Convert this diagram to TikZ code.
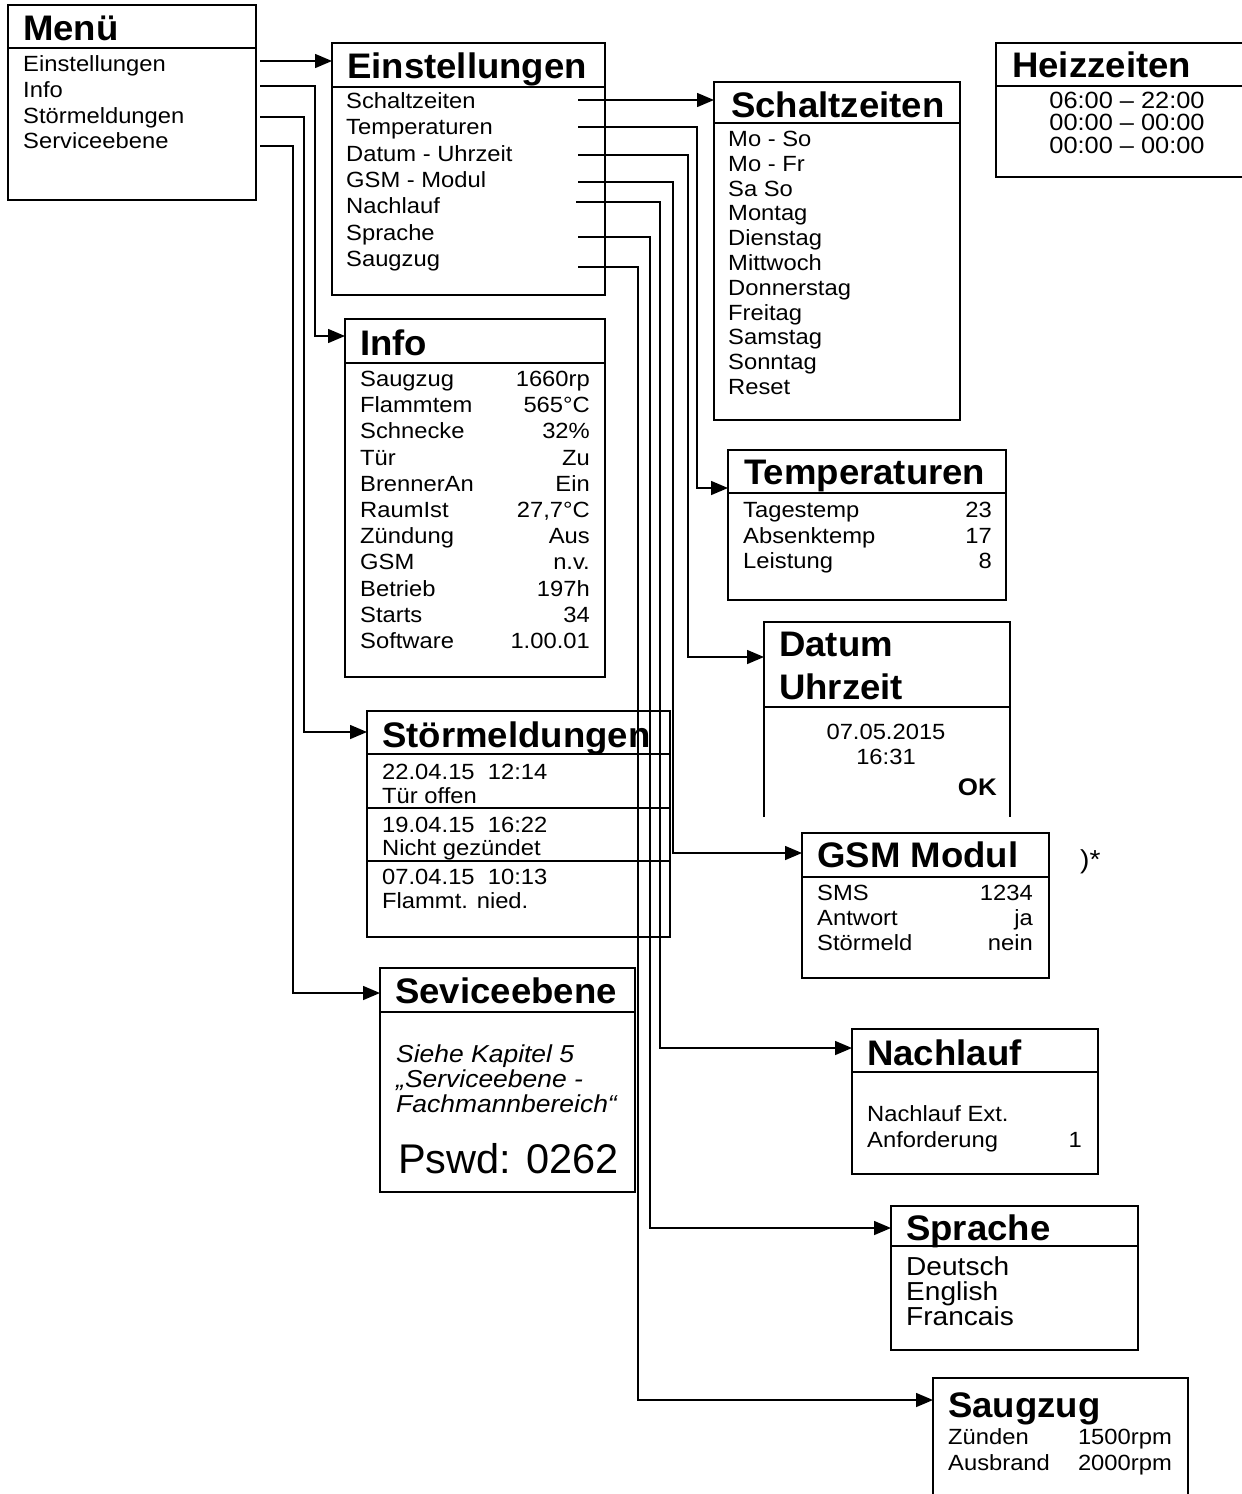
\documentclass[tikz,border=0pt]{standalone}
\usepackage{fontspec}
\setmainfont{Liberation Sans}
\newfontfamily\bodyf{Liberation Sans}[FakeStretch=1.08]
\newfontfamily\headf{Liberation Sans}[FakeStretch=1.03]
\usetikzlibrary{arrows.meta}
\tikzset{
 box/.style={draw, line width=2pt, rectangle, inner sep=0pt, outer sep=0pt, anchor=north west},
 frame/.style={rectangle, inner sep=0pt, outer sep=0pt, anchor=north west},
 openfr/.style={line width=2pt, line join=miter},
 sepl/.style={line width=1.8pt},
 conn/.style={line width=1.5pt, -{Triangle[length=17pt,width=14pt]}},
 ttl/.style={anchor=base west, inner sep=0pt, font=\headf\bfseries\fontsize{35.5}{40}\selectfont},
 itm/.style={anchor=base west, inner sep=0pt, font=\bodyf\fontsize{22}{25}\selectfont},
 val/.style={anchor=base east, inner sep=0pt, font=\bodyf\fontsize{22}{25}\selectfont},
 ctr/.style={anchor=base, inner sep=0pt, font=\bodyf\fontsize{22}{25}\selectfont},
}
\begin{document}
\begin{tikzpicture}[x=1pt,y=-1pt]
\useasboundingbox (0,0) rectangle (1242,1494);

% ---------- Menü ----------
\node[box, minimum width=248pt, minimum height=195pt] (menu) at (8,5) {};
\draw[sepl] (menu.west |- 0,48) -- (menu.east |- 0,48);
\node[ttl] (menuT) at (23,40) {Menü};
\foreach \t [count=\i] in {Einstellungen, Info, Störmeldungen, Serviceebene}
  \node[itm] (menu\i) at (23,{71.5+25.8*(\i-1)}) {\t};

% ---------- Einstellungen ----------
\node[box, minimum width=273pt, minimum height=252pt] (einst) at (332,43) {};
\draw[sepl] (einst.west |- 0,87) -- (einst.east |- 0,87);
\node[ttl] (einstT) at (347,78) {Einstellungen};
\foreach \t [count=\i] in {Schaltzeiten, Temperaturen, Datum - Uhrzeit, GSM - Modul, Nachlauf, Sprache, Saugzug}
  \node[itm] (einst\i) at (346,{108.5+26.3*(\i-1)}) {\t};

% ---------- Schaltzeiten ----------
\node[box, minimum width=246pt, minimum height=338pt] (schalt) at (714,82) {};
\draw[sepl] (schalt.west |- 0,123) -- (schalt.east |- 0,123);
\node[ttl] (schaltT) at (731,117) {Schaltzeiten};
\foreach \t [count=\i] in {Mo - So, Mo - Fr, Sa So, Montag, Dienstag, Mittwoch, Donnerstag, Freitag, Samstag, Sonntag, Reset}
  \node[itm] (schalt\i) at (728,{146.5+24.8*(\i-1)}) {\t};

% ---------- Heizzeiten ----------
\node[frame, minimum width=246pt, minimum height=134pt] (heiz) at (996,43) {};
\draw[openfr] (heiz.north east) -- (heiz.north west) -- (heiz.south west) -- (heiz.south east);
\draw[sepl] (heiz.west |- 0,86) -- (heiz.east |- 0,86);
\node[ttl] (heizT) at (1012,77) {Heizzeiten};
\node[ctr, font=\bodyf\fontsize{23.5}{25}\selectfont] (heiz1) at (1127,108) {06:00 – 22:00};
\node[ctr, font=\bodyf\fontsize{23.5}{25}\selectfont] (heiz2) at (1127,130.5) {00:00 – 00:00};
\node[ctr, font=\bodyf\fontsize{23.5}{25}\selectfont] (heiz3) at (1127,153) {00:00 – 00:00};

% ---------- Info ----------
\node[box, minimum width=260pt, minimum height=358pt] (info) at (345,319) {};
\draw[sepl] (info.west |- 0,363) -- (info.east |- 0,363);
\node[ttl] (infoT) at (360,355) {Info};
\foreach \a/\b [count=\i] in {Saugzug/1660rp, Flammtem/565°C, Schnecke/32\%, Tür/Zu, BrennerAn/Ein, RaumIst/27{,}7°C, Zündung/Aus, GSM/n.v., Betrieb/197h, Starts/34, Software/1.00.01}
  {\node[itm] (infoL\i) at (360,{386.5+26.2*(\i-1)}) {\a};
   \node[val] (infoV\i) at (590,{386.5+26.2*(\i-1)}) {\b};}

% ---------- Temperaturen ----------
\node[box, minimum width=278pt, minimum height=150pt] (temp) at (728,450) {};
\draw[sepl] (temp.west |- 0,493) -- (temp.east |- 0,493);
\node[ttl] (tempT) at (744,484) {Temperaturen};
\foreach \a/\b [count=\i] in {Tagestemp/23, Absenktemp/17, Leistung/8}
  {\node[itm] (tempL\i) at (743,{517.5+25.5*(\i-1)}) {\a};
   \node[val] (tempV\i) at (992,{517.5+25.5*(\i-1)}) {\b};}

% ---------- Datum Uhrzeit ----------
\node[frame, minimum width=246pt, minimum height=195pt] (datum) at (764,622) {};
\draw[openfr] (datum.south west) -- (datum.north west) -- (datum.north east) -- (datum.south east);
\draw[sepl] (datum.west |- 0,707) -- (datum.east |- 0,707);
\node[ttl] (datumT1) at (779,656) {Datum};
\node[ttl] (datumT2) at (779,699) {Uhrzeit};
\node[ctr] (datum1) at (886,739) {07.05.2015};
\node[ctr] (datum2) at (886,764) {16:31};
\node[val, font=\bodyf\bfseries\fontsize{24}{26}\selectfont] (datumOK) at (997,795) {OK};

% ---------- Störmeldungen ----------
\node[box, minimum width=303pt, minimum height=226pt] (stoer) at (367,711) {};
\draw[sepl] (stoer.west |- 0,754) -- (stoer.east |- 0,754);
\draw[sepl] (stoer.west |- 0,808) -- (stoer.east |- 0,808);
\draw[sepl] (stoer.west |- 0,861) -- (stoer.east |- 0,861);
\node[ttl] (stoerT) at (382,747) {Störmeldungen};
\node[itm] (stoer1) at (382,779) {22.04.15\ \ 12:14};
\node[itm] (stoer2) at (382,803) {Tür offen};
\node[itm] (stoer3) at (382,832) {19.04.15\ \ 16:22};
\node[itm] (stoer4) at (382,855) {Nicht gezündet};
\node[itm] (stoer5) at (382,884) {07.04.15\ \ 10:13};
\node[itm] (stoer6) at (382,908) {Flammt. nied.};

% ---------- GSM Modul ----------
\node[box, minimum width=247pt, minimum height=145pt] (gsm) at (802,833) {};
\draw[sepl] (gsm.west |- 0,877) -- (gsm.east |- 0,877);
\node[ttl] (gsmT) at (817,867) {GSM Modul};
\foreach \a/\b [count=\i] in {SMS/1234, Antwort/ja, Störmeld/nein}
  {\node[itm] (gsmL\i) at (817,{900+25*(\i-1)}) {\a};
   \node[val] (gsmV\i) at (1033,{900+25*(\i-1)}) {\b};}
\node[itm, font=\bodyf\fontsize{26}{30}\selectfont] (star) at (1080,868) {)*};

% ---------- Seviceebene ----------
\node[box, minimum width=255pt, minimum height=224pt] (service) at (380,968) {};
\draw[sepl] (service.west |- 0,1012) -- (service.east |- 0,1012);
\node[ttl] (serviceT) at (395,1003) {Seviceebene};
\node[itm, font=\bodyf\itshape\fontsize{24.5}{28}\selectfont] (serv1) at (396,1062) {Siehe Kapitel 5};
\node[itm, font=\bodyf\itshape\fontsize{24.5}{28}\selectfont] (serv2) at (396,1087) {„Serviceebene -};
\node[itm, font=\bodyf\itshape\fontsize{24.5}{28}\selectfont] (serv3) at (396,1112) {Fachmannbereich“};
\node[itm, font=\fontsize{41.5}{46}\selectfont] (serv4) at (398,1173) {Pswd: 0262};

% ---------- Nachlauf ----------
\node[box, minimum width=246pt, minimum height=145pt] (nach) at (852,1029) {};
\draw[sepl] (nach.west |- 0,1072) -- (nach.east |- 0,1072);
\node[ttl] (nachT) at (867,1065) {Nachlauf};
\node[itm] (nach1) at (867,1121) {Nachlauf Ext.};
\node[itm] (nach2) at (867,1147) {Anforderung};
\node[val] (nach3) at (1082,1147) {1};

% ---------- Sprache ----------
\node[box, minimum width=247pt, minimum height=144pt] (sprache) at (891,1206) {};
\draw[sepl] (sprache.west |- 0,1246) -- (sprache.east |- 0,1246);
\node[ttl] (spracheT) at (906,1240) {Sprache};
\foreach \t [count=\i] in {Deutsch, English, Francais}
  \node[itm, font=\bodyf\fontsize{26}{28}\selectfont] (sprache\i) at (906,{1275+25.3*(\i-1)}) {\t};

% ---------- Saugzug ----------
\node[frame, minimum width=255pt, minimum height=116pt] (saug) at (933,1378) {};
\draw[openfr] (saug.south west) -- (saug.north west) -- (saug.north east) -- (saug.south east);
\node[ttl] (saugT) at (948,1417) {Saugzug};
\node[itm] (saug1) at (948,1444) {Zünden};
\node[val] (saugV1) at (1172,1444) {1500rpm};
\node[itm] (saug2) at (948,1470) {Ausbrand};
\node[val] (saugV2) at (1172,1470) {2000rpm};

% ---------- connectors from Menü ----------
\coordinate (m1) at (260,61);
\coordinate (m2) at (260,86);
\coordinate (m3) at (260,117);
\coordinate (m4) at (260,146);
\draw[conn] (m1) -- (einst.west |- m1);
\draw[conn] (m2) -| (315,336) -- (info.west |- 0,336);
\draw[conn] (m3) -| (304,732) -- (stoer.west |- 0,732);
\draw[conn] (m4) -| (293,993) -- (service.west |- 0,993);

% ---------- connectors from Einstellungen ----------
\coordinate (e1) at (578,100);
\coordinate (e2) at (578,127);
\coordinate (e3) at (578,155);
\coordinate (e4) at (578,182);
\coordinate (e5) at (576,202);
\coordinate (e6) at (578,237);
\coordinate (e7) at (578,267);
\draw[conn] (e1) -- (schalt.west |- e1);
\draw[conn] (e2) -| (697,488) -- (temp.west |- 0,488);
\draw[conn] (e3) -| (688,657) -- (datum.west |- 0,657);
\draw[conn] (e4) -| (673,853) -- (gsm.west |- 0,853);
\draw[conn] (e5) -| (660,1048) -- (nach.west |- 0,1048);
\draw[conn] (e6) -| (650,1228) -- (sprache.west |- 0,1228);
\draw[conn] (e7) -| (638,1400) -- (saug.west |- 0,1400);
\end{tikzpicture}
\end{document}
